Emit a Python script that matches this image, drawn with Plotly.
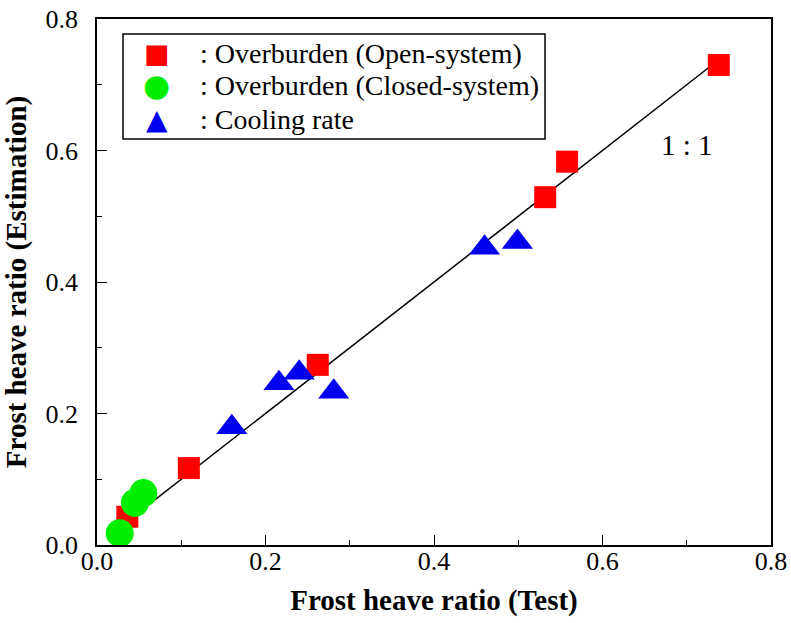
import plotly.graph_objects as go

# Frost heave ratio: test results vs. estimation
open_test = [0.036, 0.109, 0.262, 0.532, 0.558, 0.738]
open_est = [0.043, 0.117, 0.274, 0.529, 0.583, 0.730]

closed_test = [0.027, 0.045, 0.055]
closed_est = [0.018, 0.064, 0.079]

cooling_test = [0.160, 0.216, 0.240, 0.281, 0.460, 0.499]
cooling_est = [0.179, 0.246, 0.262, 0.233, 0.452, 0.461]

series_names = [": Overburden (Open-system)",
                ": Overburden (Closed-system)",
                ": Cooling rate"]
series_colors = ["#ff0000", "#00ee00", "#0000ee"]
series_glyphs = ["\u25A0", "\u25CF", "\u25B2"]

line_range = [0.04, 0.73]
tick_vals = [0.0, 0.2, 0.4, 0.6, 0.8]

FONT = "Liberation Serif, Times New Roman, serif"

fig = go.Figure()

# 1:1 reference line
fig.add_trace(go.Scatter(
    x=line_range, y=line_range, mode="lines",
    line=dict(color="black", width=1.5), showlegend=False, hoverinfo="skip"))

fig.add_trace(go.Scatter(
    x=open_test, y=open_est, mode="markers", name=series_names[0], showlegend=False,
    marker=dict(symbol="square", size=22, color=series_colors[0], line=dict(width=0))))

fig.add_trace(go.Scatter(
    x=closed_test, y=closed_est, mode="markers", name=series_names[1], showlegend=False,
    marker=dict(symbol="circle", size=28, color=series_colors[1], line=dict(width=0))))

fig.add_trace(go.Scatter(
    x=cooling_test, y=cooling_est, mode="markers", name=series_names[2], showlegend=False,
    marker=dict(symbol="triangle-up", size=27, color=series_colors[2], line=dict(width=0))))

fig.add_annotation(
    x=0.70, y=0.608, text="1 : 1", showarrow=False,
    font=dict(family=FONT, size=29, color="black"))

# Legend box drawn in paper coordinates
fig.add_shape(type="rect", xref="paper", yref="paper",
              x0=0.0386, x1=0.6647, y0=0.7719, y1=0.9715,
              line=dict(color="black", width=1.5), fillcolor="white", layer="below")

row_y = [0.935, 0.8745, 0.808]
glyph_sizes = [27, 31, 28]
for name, color, glyph, gsize, ry in zip(series_names, series_colors,
                                          series_glyphs, glyph_sizes, row_y):
    fig.add_annotation(
        x=0.089, y=ry, xref="paper", yref="paper", text=glyph, showarrow=False,
        xanchor="center", yanchor="middle",
        font=dict(family="DejaVu Sans", size=gsize, color=color))
    fig.add_annotation(
        x=0.1499, y=ry, xref="paper", yref="paper", text=name, showarrow=False,
        xanchor="left", yanchor="middle",
        font=dict(family=FONT, size=28, color="black"))

axis_common = dict(
    range=[0, 0.8], tickvals=tick_vals, tickformat=".1f",
    ticks="inside", ticklen=10, tickwidth=1.2, tickcolor="black",
    minor=dict(dtick=0.1, ticks="inside", ticklen=5, tickwidth=1.2, tickcolor="black"),
    showline=True, linecolor="black", linewidth=1.5, mirror=True,
    showgrid=False, zeroline=False, automargin=False,
    tickfont=dict(family=FONT, size=26, color="black"),
)

fig.update_xaxes(
    **axis_common,
    ticklabelstandoff=-8,
    title=dict(text="<b>Frost heave ratio (Test)</b>",
               font=dict(family=FONT, size=29, color="black")))
fig.update_yaxes(
    **axis_common,
    ticklabelstandoff=12,
    title=dict(text="<b>Frost heave ratio (Estimation)</b>",
               font=dict(family=FONT, size=29, color="black")))

fig.update_layout(
    width=791, height=623,
    margin=dict(l=97, r=20, t=19, b=78),
    paper_bgcolor="white", plot_bgcolor="white",
    showlegend=False,
)

fig.write_html("out.html")
